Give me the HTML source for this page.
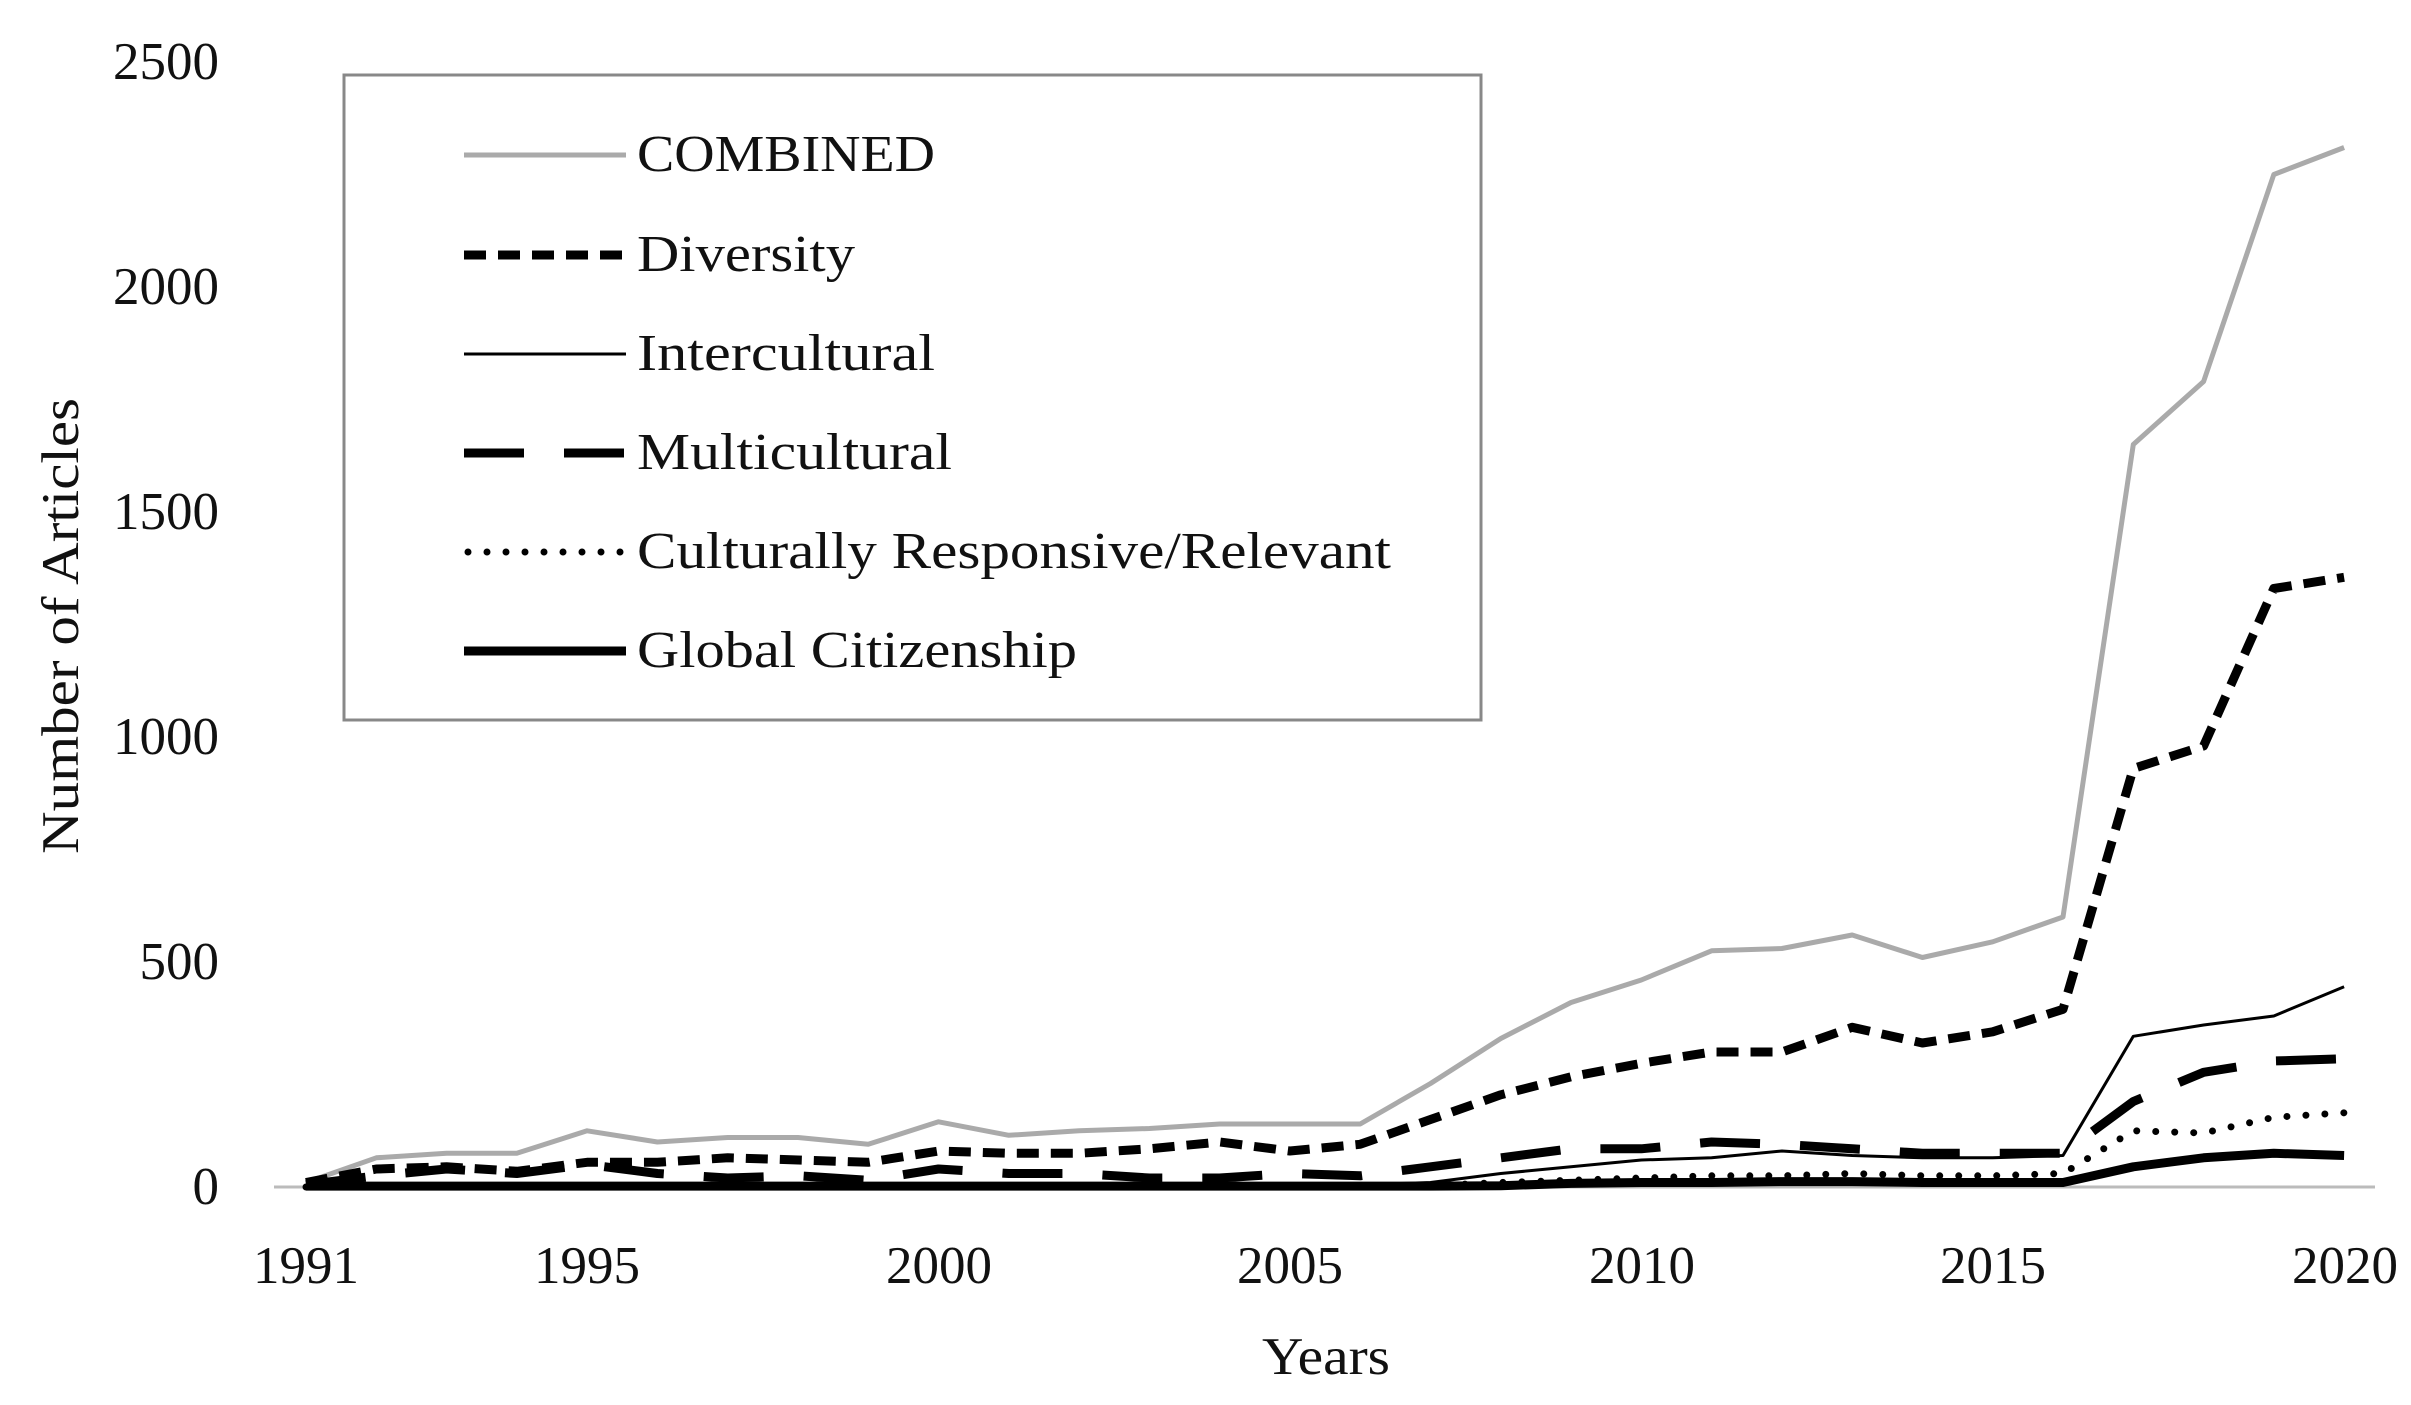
<!DOCTYPE html>
<html><head><meta charset="utf-8"><style>
html,body{margin:0;padding:0;background:#fff;}
svg{display:block;}
text{font-family:"Liberation Serif",serif;fill:#111;}
</style></head><body>
<svg id="s" width="2411" height="1405" viewBox="0 0 2411 1405" xmlns="http://www.w3.org/2000/svg">
<g font-size="53" text-anchor="end">
<text x="219" y="79">2500</text>
<text x="219" y="304">2000</text>
<text x="219" y="529">1500</text>
<text x="219" y="754">1000</text>
<text x="219" y="979">500</text>
<text x="219" y="1204">0</text>
</g>
<g font-size="53" text-anchor="middle">
<text x="306" y="1283">1991</text>
<text x="587" y="1283">1995</text>
<text x="939" y="1283">2000</text>
<text x="1290" y="1283">2005</text>
<text x="1642" y="1283">2010</text>
<text x="1993" y="1283">2015</text>
<text x="2345" y="1283">2020</text>
<text x="1326" y="1374" textLength="128" lengthAdjust="spacingAndGlyphs">Years</text>
<text x="0" y="0" transform="translate(78,626) rotate(-90)" textLength="456" lengthAdjust="spacingAndGlyphs">Number of Articles</text>
</g>
<line x1="274" y1="1187" x2="2375" y2="1187" stroke="#bbb" stroke-width="3"/>
<g id="series" fill="none" stroke-linejoin="round"></g>
<rect x="344" y="75" width="1137" height="645" fill="none" stroke="#888" stroke-width="3"/>
<g font-size="52">
<line x1="464" y1="155" x2="626" y2="155" stroke="#aaa" stroke-width="5"/>
<text x="637" y="171" textLength="298" lengthAdjust="spacingAndGlyphs">COMBINED</text>
<line x1="464" y1="255" x2="626" y2="255" stroke="#000" stroke-width="9" stroke-dasharray="22 12"/>
<text x="637" y="271" textLength="218" lengthAdjust="spacingAndGlyphs">Diversity</text>
<line x1="464" y1="354" x2="626" y2="354" stroke="#000" stroke-width="3"/>
<text x="637" y="370" textLength="298" lengthAdjust="spacingAndGlyphs">Intercultural</text>
<line x1="464" y1="453" x2="626" y2="453" stroke="#000" stroke-width="9" stroke-dasharray="60 40"/>
<text x="637" y="469" textLength="315" lengthAdjust="spacingAndGlyphs">Multicultural</text>
<line x1="468" y1="552" x2="626" y2="552" stroke="#000" stroke-width="7" stroke-dasharray="0 19" stroke-linecap="round"/>
<text x="637" y="568" textLength="754" lengthAdjust="spacingAndGlyphs">Culturally Responsive/Relevant</text>
<line x1="464" y1="651" x2="626" y2="651" stroke="#000" stroke-width="9"/>
<text x="637" y="667" textLength="440" lengthAdjust="spacingAndGlyphs">Global Citizenship</text>
</g>
</svg>
<script>
var X=function(i){return 306+i*70.28;},Y=function(v){return 1187-v*0.45;};
var D={
c:[10,65,75,75,125,100,110,110,95,145,115,125,130,140,140,140,230,330,410,460,525,530,560,510,545,600,1650,1790,2250,2310],
d:[10,40,45,35,55,55,65,60,55,80,75,75,85,100,80,95,150,205,245,275,300,300,355,320,345,395,930,980,1330,1355],
i:[5,5,5,5,5,5,5,5,5,5,5,5,5,5,5,5,10,30,45,60,65,80,70,65,65,70,335,360,380,445],
m:[5,25,40,30,50,30,20,25,15,40,30,30,20,20,30,25,45,65,85,85,100,95,85,75,75,75,190,255,280,285],
r:[0,0,0,0,0,0,0,0,0,0,0,0,0,0,0,0,3,10,15,20,25,25,30,25,25,30,125,120,155,165],
g:[2,2,2,2,2,2,2,2,2,2,2,2,2,2,2,2,2,3,8,10,10,12,12,10,10,10,45,65,75,70]};
var st={c:'stroke="#aaa" stroke-width="5"',d:'stroke="#000" stroke-width="9" stroke-dasharray="22 12"',
i:'stroke="#000" stroke-width="3"',m:'stroke="#000" stroke-width="9" stroke-dasharray="60 40"',
r:'stroke="#000" stroke-width="7" stroke-dasharray="0 19" stroke-linecap="round"',g:'stroke="#000" stroke-width="9"'};
var h='';['c','g','r','i','m','d'].forEach(function(k){var p=D[k].map(function(v,i){return (i?'L':'M')+X(i).toFixed(1)+' '+Y(v).toFixed(1);}).join(' ');h+='<path d="'+p+'" '+st[k]+'/>';});
document.getElementById('series').innerHTML=h;
</script>
</body></html>
